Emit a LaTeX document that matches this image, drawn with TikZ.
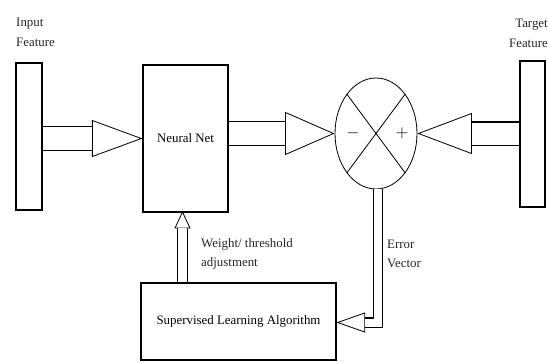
\documentclass[tikz,border=0pt]{standalone}
\usepackage{fontspec}
\setmainfont{Liberation Serif}
\usetikzlibrary{shapes.geometric}

\begin{document}
\begin{tikzpicture}[x=0.3mm, y=-0.3mm,
	font=\fontsize{11}{16.5}\selectfont,
	block/.style={draw, line width=1pt, rectangle, inner sep=0},
	tri/.style 2 args={draw, line width=0.7pt, isosceles triangle,
		isosceles triangle stretches, inner sep=0,
		minimum width=#1*0.3mm, minimum height=#2*0.3mm},
	pipe/.style={draw, line width=1pt, double, double distance=#1*0.3mm},
	pipe/.default=24,
	lbl/.style={text=black!85, inner sep=0},
]
	% параметры
	\def\u{0.3mm}   % один пиксель
	\useasboundingbox (0,0) rectangle (548,362);

	% входной и целевой признаки
	\node[block, minimum width=26*\u, minimum height=147*\u] (input) at (29,136.5) {};
	\node[block, minimum width=25*\u, minimum height=146*\u] (target) at (532.5,134) {};
	\node[lbl, align=left, anchor=west] (inlbl) at (16,32.5) {Input\\Feature};
	\node[lbl, align=right, anchor=east] (tglbl) at (548,33.5) {Target\\Feature};

	% нейросеть и сумматор
	\node[block, minimum width=85*\u, minimum height=147*\u] (nn) at (185.5,138.5) {Neural Net};
	\node[draw, line width=0.7pt, ellipse, minimum width=82*\u, minimum height=111*\u] (sum) at (376,133.5) {};
	\draw[line width=0.7pt] (sum.north west) -- (sum.south east);
	\draw[line width=0.7pt] (sum.north east) -- (sum.south west);
	\node[font=\Large] (minus) at (353,133) {$-$};
	\node[font=\Large] (plus) at (402,133) {$+$};

	% алгоритм обучения
	\node[block, minimum width=195*\u, minimum height=77*\u] (sla) at (238.5,321.5) {Supervised Learning Algorithm};

	% треугольники-стрелки
	\node[tri={36}{49}, anchor=apex] (t1) at (nn.west) {};
	\node[tri={42}{48}, anchor=apex] (t2) at (sum.west) {};
	\node[tri={40}{53}, shape border rotate=180, anchor=apex] (t3) at (sum.east) {};
	\node[tri={15}{16}, shape border rotate=90, anchor=apex] (t4) at (182.5,211) {};
	\node[tri={19}{27}, shape border rotate=180, anchor=apex] (t5) at (sla.east |- 0,322.5) {};

	% двойные линии
	\draw[pipe=23] (input.east |- t1.lower side) -- (t1.lower side);
	\draw[pipe=23] (nn.east |- t2.lower side) -- (t2.lower side);
	\draw[pipe=22] (t3.lower side) -- (target.west |- t3.lower side);
	\draw[pipe=9] (t4.lower side) -- (t4.lower side |- sla.north);
	\draw[pipe=8] (378,189) |- (t5.lower side);

	% подписи
	\node[lbl, align=left, anchor=west] (wlbl) at (201,254) {Weight/ threshold\\adjustment};
	\node[lbl, align=left, anchor=west] (elbl) at (387,254) {Error\\Vector};
\end{tikzpicture}
\end{document}
